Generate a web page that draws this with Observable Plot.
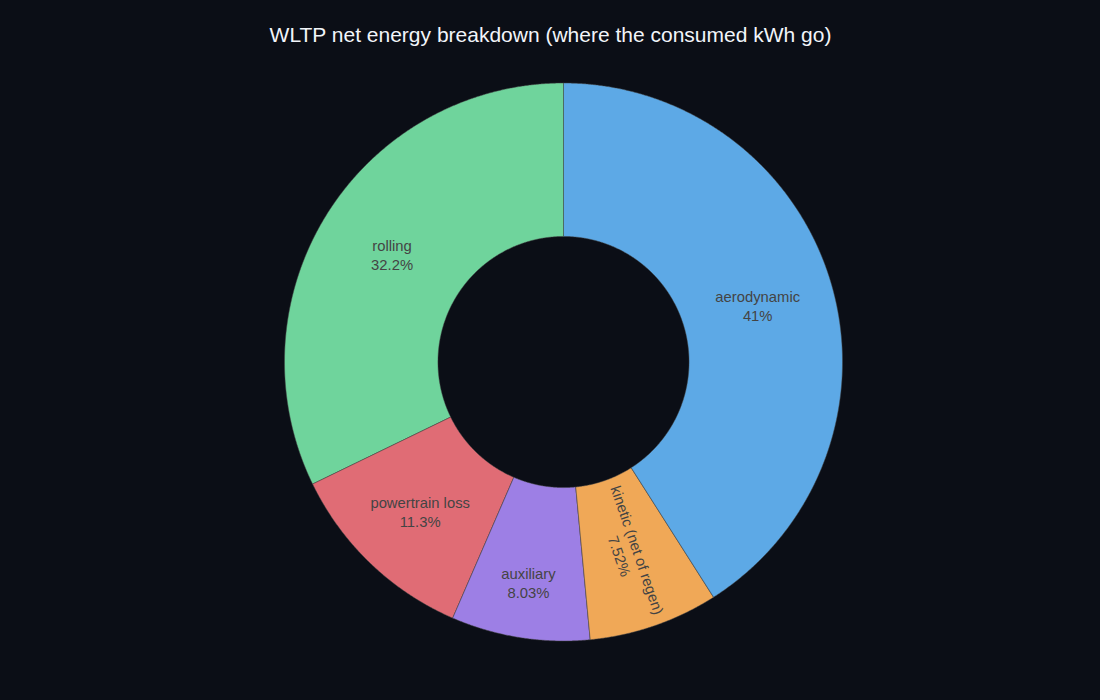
<!DOCTYPE html>
<html>
<head>
<meta charset="utf-8">
<script src="https://cdn.jsdelivr.net/npm/d3@7"></script>
<script src="https://cdn.jsdelivr.net/npm/@observablehq/plot@0.6"></script>
<style>
  html, body { margin: 0; padding: 0; background: #0b0e16; }
  #chart svg { display: block; }
</style>
</head>
<body>
<div id="chart"></div>
<script>
// ---- data ----
const title = "WLTP net energy breakdown (where the consumed kWh go)";
const labels = ["aerodynamic", "kinetic (net of regen)", "auxiliary", "powertrain loss", "rolling"];
const values = [41.0, 7.52, 8.03, 11.3, 32.2];
const colors = ["#5da9e6", "#f0a857", "#9d7fe5", "#e06c75", "#6fd49c"];

// ---- layout ----
const W = 1100, H = 700;
const CX = 563, CY = 361.5, R = 279, HOLE = 0.45;
const BG = "#0b0e16";
const FONT = "'Liberation Sans', Arial, Helvetica, sans-serif";
const FS = 14.8, LH = 1.28;

const rows = labels.map((label, i) => ({label, value: values[i]}));
const total = d3.sum(values);
const pct = d3.format(".3~r");
const arcs = d3.pie().sort(null).value(d => d.value)(rows);

// polygon points for each annular slice
const pts = [];
const step = Math.PI / 720;
for (const a of arcs) {
  const n = Math.max(2, Math.ceil((a.endAngle - a.startAngle) / step));
  for (let k = 0; k <= n; k++) {
    const t = a.startAngle + (a.endAngle - a.startAngle) * k / n;
    pts.push({label: a.data.label, x: R * Math.sin(t), y: R * Math.cos(t)});
  }
  for (let k = n; k >= 0; k--) {
    const t = a.startAngle + (a.endAngle - a.startAngle) * k / n;
    pts.push({label: a.data.label, x: R * HOLE * Math.sin(t), y: R * HOLE * Math.cos(t)});
  }
}

// text measurement
const ctx = document.createElement("canvas").getContext("2d");
ctx.font = `${FS}px ${FONT}`;

// inside-text placement (plotly-like)
const ring = 1 - HOLE;
const texts = arcs.map(a => {
  const lines = [a.data.label, pct(a.data.value / total * 100) + "%"];
  const w = d3.max(lines, s => ctx.measureText(s).width);
  const h = lines.length * FS * LH;
  const half = (a.endAngle - a.startAngle) / 2;
  const mid = (a.startAngle + a.endAngle) / 2;
  const rIns = Math.min(1 / (1 + 1 / Math.sin(half)), ring / 2);
  const diam = Math.sqrt(w * w + h * h);
  let rC, rot = 0;
  if (rIns * R * 2 / diam >= 1) {
    rC = 1 - rIns;
  } else {
    const r2 = R - 6;
    const asp = w / h;
    const q = asp + 1 / (2 * Math.tan(half));
    const s = r2 * Math.min(1 / (Math.sqrt(q * q + 0.5) + q), ring / (Math.sqrt(asp * asp + ring / 2) + asp));
    const b = s / r2;
    rC = Math.cos(b) - asp * b;
    const deg = mid * 180 / Math.PI;
    rot = ((deg + 720) % 180) - 90;
  }
  return {
    text: lines.join("\n"),
    x: rC * R * Math.sin(mid),
    y: rC * R * Math.cos(mid),
    rotate: rot
  };
});

const chart = Plot.plot({
  width: W,
  height: H,
  margin: 0,
  style: {background: BG, fontFamily: FONT},
  x: {domain: [-CX, W - CX], axis: null},
  y: {domain: [-(H - CY), CY], axis: null},
  color: {domain: labels, range: colors},
  marks: [
    Plot.line(pts, {
      x: "x", y: "y", z: "label", fill: "label",
      stroke: "#444444", strokeWidth: 0.5, curve: "linear-closed"
    }),
    Plot.text(texts, {
      x: "x", y: "y", text: "text", rotate: "rotate",
      fill: "#444444", fontSize: FS, lineHeight: LH,
      textAnchor: "middle", lineAnchor: "middle", fontFamily: FONT
    }),
    Plot.text([title], {
      frameAnchor: "top", dy: 34.5, lineAnchor: "middle",
      fill: "#f2f5fa", fontSize: 21, fontFamily: FONT
    })
  ]
});
document.getElementById("chart").appendChild(chart);
</script>
</body>
</html>
